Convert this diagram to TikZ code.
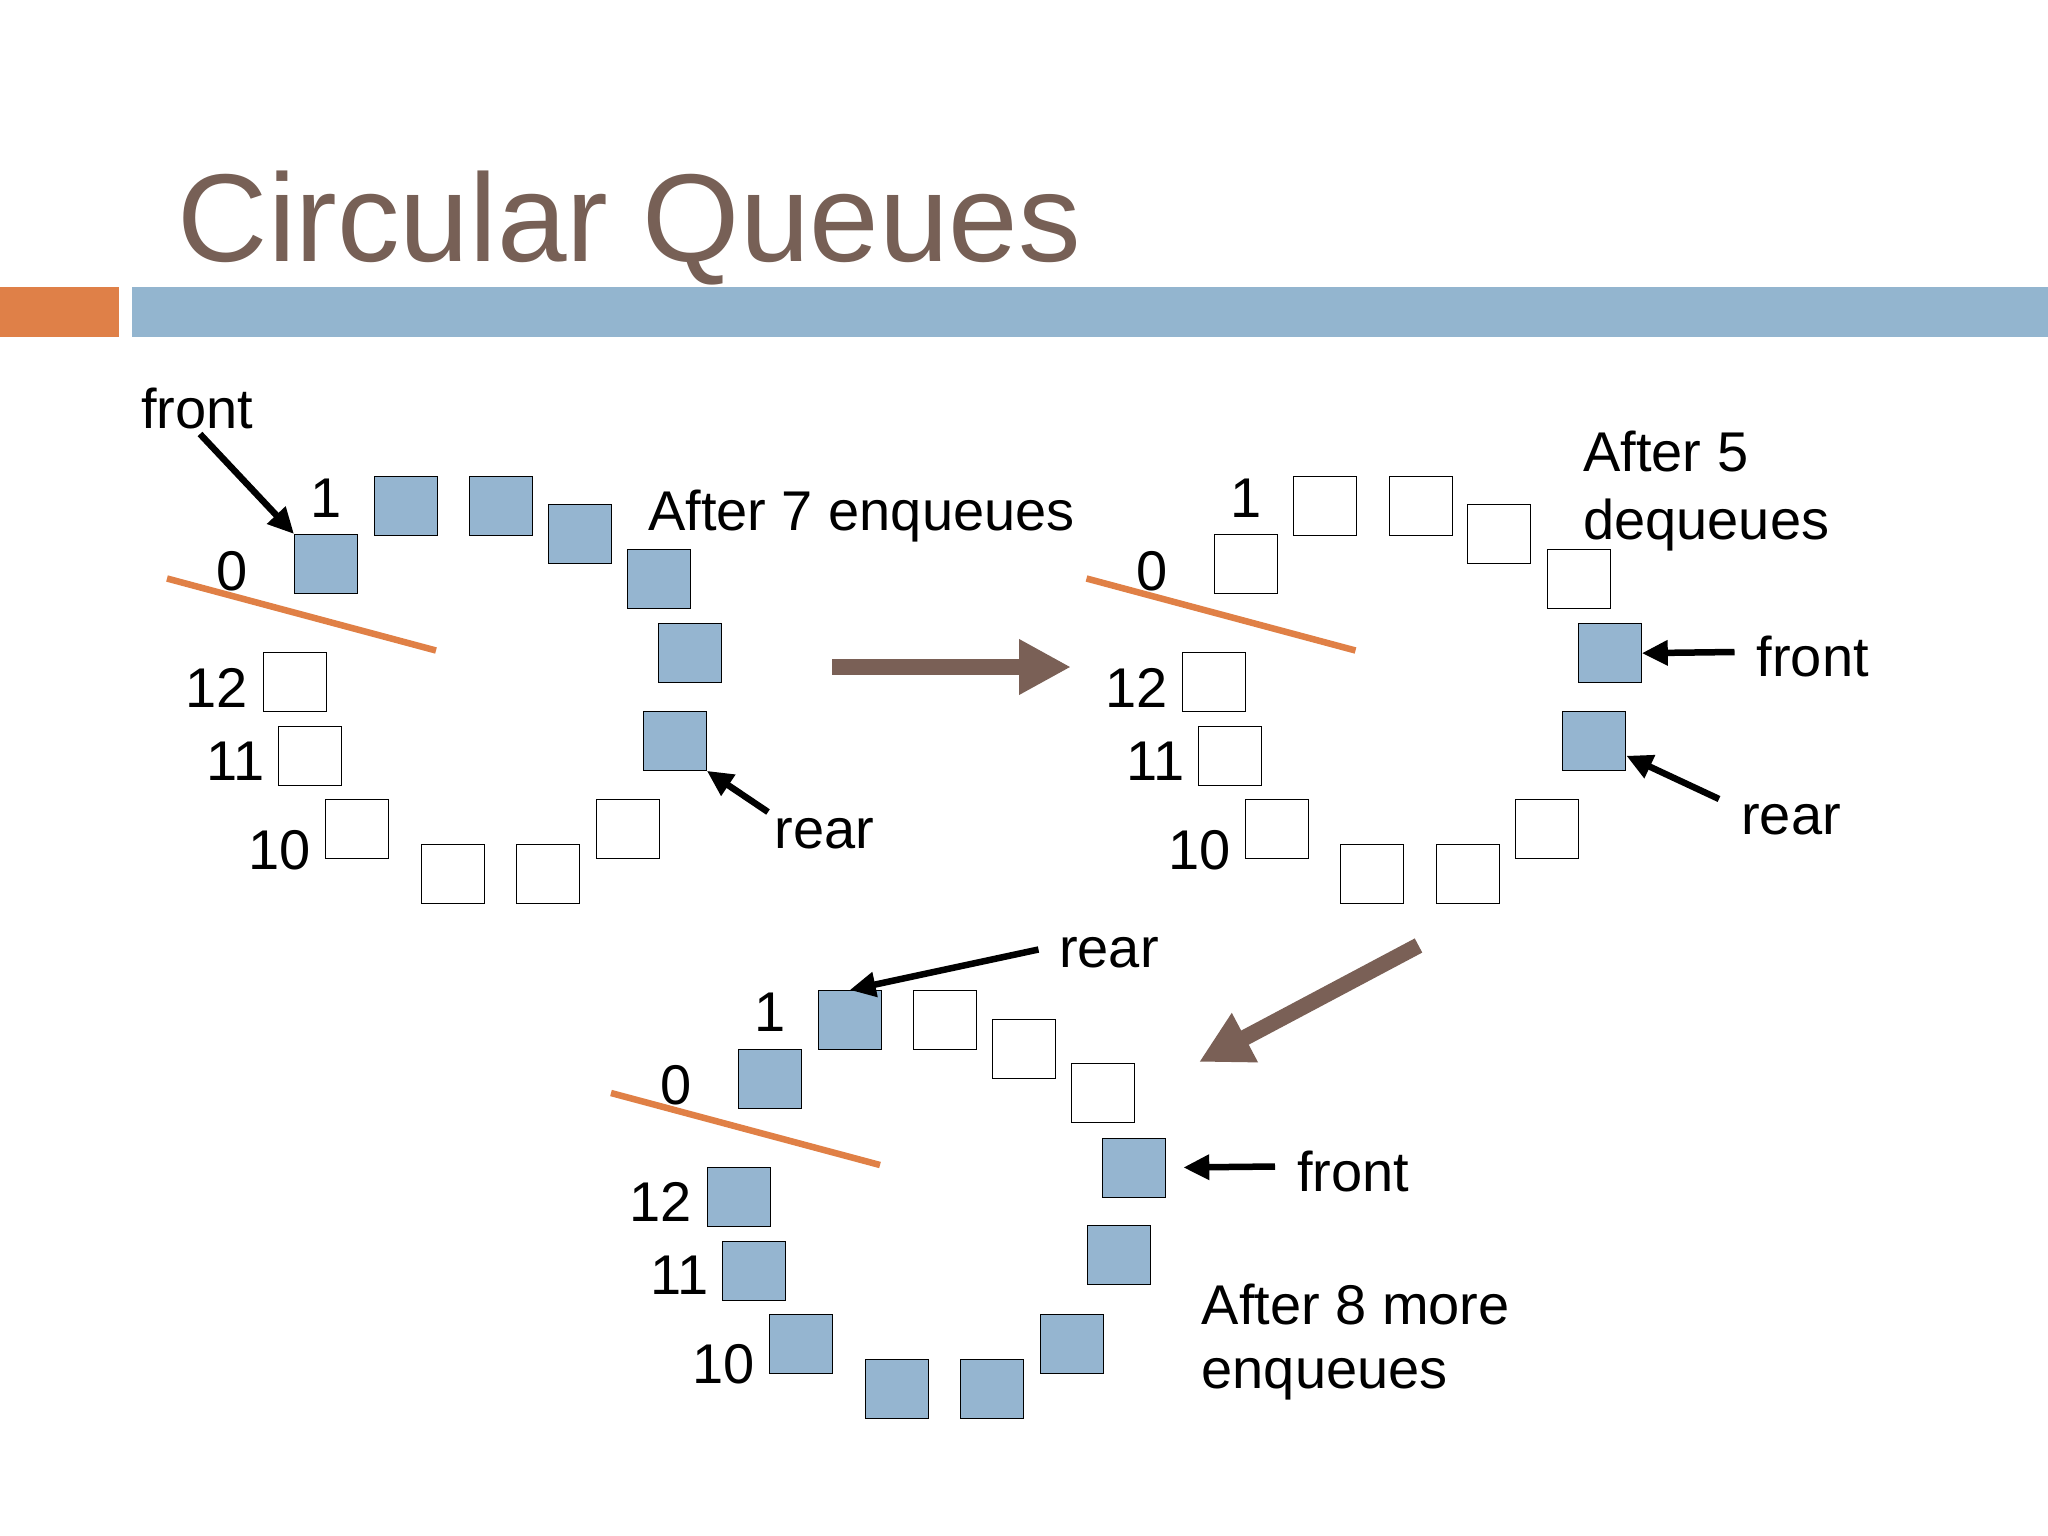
\documentclass[tikz,border=0pt]{standalone}
\usepackage{fontspec}
\setmainfont{Liberation Sans}
\usetikzlibrary{arrows.meta,calc}
\definecolor{titlebrown}{RGB}{119,96,86}
\definecolor{barorange}{RGB}{223,128,72}
\definecolor{barblue}{RGB}{147,181,207}
\definecolor{boxblue}{RGB}{149,181,208}
\definecolor{arrowbrown}{RGB}{122,96,86}
\definecolor{lineorange}{RGB}{224,128,70}
\tikzset{
  qbox/.style={draw=black,line width=1.3pt,minimum width=63pt,minimum height=59pt,inner sep=0pt,anchor=north west},
  qlabel/.style={inner sep=0pt,anchor=base east,font=\fontsize{56}{67}\selectfont},
  qtext/.style={inner sep=0pt,anchor=base west,font=\fontsize{56}{67}\selectfont},
  ptr/.style={line width=6.5pt,-{Triangle[length=26pt,width=24pt]}},
  bigarrow/.style={draw=arrowbrown,line width=16pt,-{Triangle[length=52pt,width=52pt]}},
  divider/.style={draw=lineorange,line width=6.5pt}
}
\newcommand\drawqueue[2]{%
  \foreach \i/\x/\y in {0/294/534,1/373.5/475.5,2/469/475.5,3/547.5/504,4/627/548.5,5/658/623,6/642.5/710.5,7/595.5/799,8/516/844,9/420.5/844,10/325/799,11/278/726,12/262.5/652}{%
    \pgfmathtruncatemacro\f{{#2}[\i]}%
    \ifnum\f=1 \def\fc{boxblue}\else\def\fc{white}\fi
    \node[qbox,fill=\fc] (#1b\i) at (\x,\y) {};
  }
  \node[qlabel] (#1l1) at (342,517) {1};
  \node[qlabel] (#1l0) at (248,590) {0};
  \node[qlabel] (#1l12) at (248,707) {12};
  \node[qlabel] (#1l11) at (265,780) {11};
  \node[qlabel] (#1l10) at (311,869) {10};
  \draw[divider] (167,578.5) -- (436,650.5);
}
\begin{document}
\begin{tikzpicture}[x=1pt,y=-1pt]
\useasboundingbox (0,0) rectangle (2048,1536);
\fill[white] (0,0) rectangle (2048,1536);
% title and bars
\node[inner sep=0pt,anchor=base west,text=titlebrown,font=\fontsize{125}{150}\selectfont] (title) at (177.6,261) {Circular Queues};
\fill[barorange] (0,287) rectangle (119,337);
\fill[barblue] (132,287) rectangle (2048,337);
% queues
\begin{scope}
  \drawqueue{qa}{1,1,1,1,1,1,1,0,0,0,0,0,0}
\end{scope}
\begin{scope}[shift={(919.5,0)}]
  \drawqueue{qb}{0,0,0,0,0,1,1,0,0,0,0,0,0}
\end{scope}
\begin{scope}[shift={(444,514.5)}]
  \drawqueue{qc}{1,1,0,0,0,1,1,1,1,1,1,1,1}
\end{scope}
% texts
\node[qtext] (qafront) at (141,428) {front};
\node[qtext] (qatitle) at (648,530) {After 7 enqueues};
\node[qtext] (qarear) at (774.5,848) {rear};
\node[qtext] (qbtitle1) at (1583,471.5) {After 5};
\node[qtext] (qbtitle2) at (1583,539) {dequeues};
\node[qtext] (qbfront) at (1756.5,676.5) {front};
\node[qtext] (qbrear) at (1741,834) {rear};
\node[qtext] (qcrear) at (1059,967) {rear};
\node[qtext] (qcfront) at (1297,1191) {front};
\node[qtext] (qctitle1) at (1201.5,1324) {After 8 more};
\node[qtext] (qctitle2) at (1201.5,1388) {enqueues};
% pointer tails
\coordinate (tqafront) at (200,434);
\coordinate (tqarear) at (768,812);
\coordinate (tqbfront) at (1734.5,652);
\coordinate (tqbrear) at (1719,799);
\coordinate (tqcrear) at (1038.5,949.5);
\coordinate (tqcfront) at (1275,1166.5);
\draw[ptr] (tqafront) -- (qab0.north west);
\draw[ptr] (tqarear) -- (qab6.south east);
\draw[ptr] (tqbfront) -- (qbb5.east);
\draw[ptr] (tqbrear) -- ($(qbb6.east)!0.5!(qbb6.south east)$);
\draw[ptr] (tqcrear) -- (qcb1.north);
\draw[ptr,shorten >=17pt] (tqcfront) -- (qcb5.east);
% big arrows
\coordinate (ba1s) at (832,667);
\coordinate (ba1e) at (1071,667);
\coordinate (ba2s) at (1418.5,945.5);
\coordinate (ba2e) at (1199,1062);
\draw[bigarrow] (ba1s) -- (ba1e);
\draw[bigarrow] (ba2s) -- (ba2e);
\end{tikzpicture}
\end{document}
